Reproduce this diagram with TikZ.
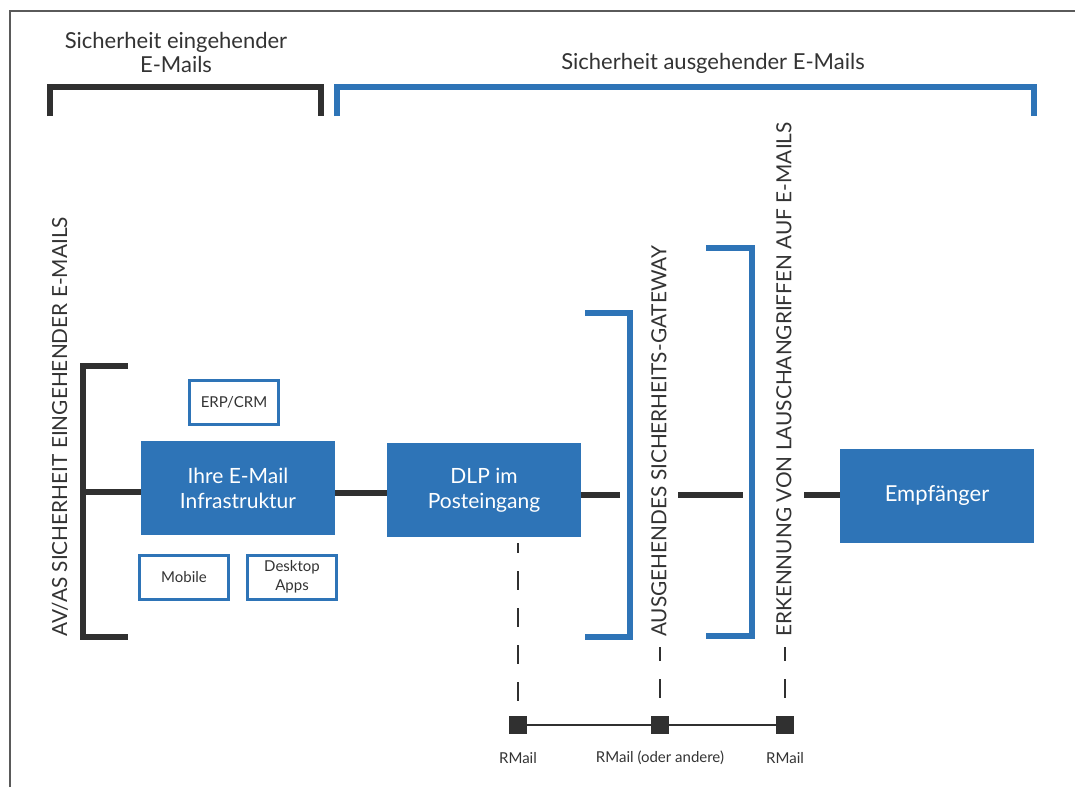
\documentclass[tikz,border=0pt]{standalone}
\usepackage{fontspec}
\setmainfont{Lato}

\definecolor{mailblue}{RGB}{46,116,183}
\definecolor{textgray}{RGB}{51,51,51}
\definecolor{linegray}{RGB}{48,48,48}
\definecolor{framegray}{RGB}{90,90,90}

\tikzset{
  bigbox/.style={fill=mailblue, text=white, minimum width=194, minimum height=94, inner sep=0, align=center, font=\fontsize{21}{25}\selectfont},
  smallbox/.style={draw=mailblue, line width=3, fill=white, text=textgray, minimum width=89, minimum height=44, inner sep=0, align=center, font=\fontsize{15}{19}\selectfont},
  conn/.style={linegray, line width=6},
  bracket black/.style={linegray, line width=6},
  bracket blue/.style={mailblue, line width=6},
  side label/.style={rotate=90, anchor=west, inner sep=0, text=textgray, font=\fontsize{20.8}{24}\selectfont},
  head label/.style={align=center, text=textgray, font=\fontsize{22}{24}\selectfont},
  rmail/.style={fill=linegray, minimum size=18, inner sep=0},
  dashline/.style={linegray, line width=2.5, dash pattern=on 19pt off 18pt},
}

\begin{document}
\begin{tikzpicture}[x=1pt, y=-1pt]

    \useasboundingbox (0,0) rectangle (1075,787);
    \draw [framegray, line width=2.5] (10,787) -- (10,11) -- (1075,11);

    % ================================================================================================
    % 标题
    % ================================================================================================
    \node [head label] (head-in) at (176,52) {Sicherheit eingehender\\E-Mails};
    \node [head label] (head-out) at (713,63) {Sicherheit ausgehender E-Mails};

    \draw [bracket black] (50,116) -- (50,87) -- (321,87) -- (321,116);
    \draw [bracket blue] (337,116) -- (337,87) -- (1034,87) -- (1034,116);

    % ================================================================================================
    % 方框
    % ================================================================================================
    \node [bigbox] (infra) at (238,488) {Ihre E-Mail\\Infrastruktur};
    \node [bigbox] (dlp) at (484,490) {DLP im\\Posteingang};
    \node [bigbox, font=\fontsize{22}{25}\selectfont] (empf) at (937,496) {Empfänger};

    \node [smallbox] (erp) at (234,402) {ERP/CRM};
    \node [smallbox] (mobile) at (184,577) {Mobile};
    \node [smallbox] (desktop) at (292,577) {Desktop\\Apps};

    % ================================================================================================
    % 括号
    % ================================================================================================
    \draw [bracket black] (128,366) -- (83,366) -- (83,637) -- (128,637);
    \draw [bracket blue] (585,313) -- (630,313) -- (630,637) -- (585,637);
    \draw [bracket blue] (706,248) -- (752,248) -- (752,636) -- (706,636);

    \node [side label] (lab-av) at (60,637) {AV/AS SICHERHEIT EINGEHENDER E-MAILS};
    \node [side label] (lab-gw) at (659,637) {AUSGEHENDES SICHERHEITS-GATEWAY};
    \node [side label] (lab-ev) at (784,637) {ERKENNUNG VON LAUSCHANGRIFFEN AUF E-MAILS};

    % ================================================================================================
    % 连接
    % ================================================================================================
    \coordinate (av-mid) at (83,492);
    \coordinate (gw-in) at (620,495);
    \coordinate (gw-out) at (678,495);
    \coordinate (ev-in) at (743,495);
    \coordinate (ev-out) at (804,495);

    \draw [conn] (av-mid) -- (av-mid -| infra.west);
    \draw [conn] ([yshift=-5]infra.east) -- ([yshift=-5]infra.east -| dlp.west);
    \draw [conn] (gw-in -| dlp.east) -- (gw-in);
    \draw [conn] (gw-out) -- (ev-in);
    \draw [conn] (ev-out) -- (ev-out -| empf.west);

    % ================================================================================================
    % RMail
    % ================================================================================================
    \foreach \x [count=\i] in {518,660,785}
    \node [rmail] (rmail-\i) at (\x,725) {};

    \draw [linegray, line width=2] (rmail-1) -- (rmail-2) -- (rmail-3);

    \foreach \l [count=\i] in {RMail, {RMail (oder andere)}, RMail}
    \node [text=textgray, font=\fontsize{15}{18}\selectfont] (rmail-label-\i) at (rmail-\i |- 0,758) {\l};

    \coordinate (dlp-end) at (518,543);
    \coordinate (gw-end) at (660,647);
    \coordinate (ev-end) at (785,647);

    \draw [dashline, dash phase=22pt] (rmail-1.north) -- (dlp-end);
    \draw [dashline, dash phase=19pt] (rmail-2.north) -- (gw-end);
    \draw [dashline, dash phase=19pt] (rmail-3.north) -- (ev-end);

\end{tikzpicture}
\end{document}
